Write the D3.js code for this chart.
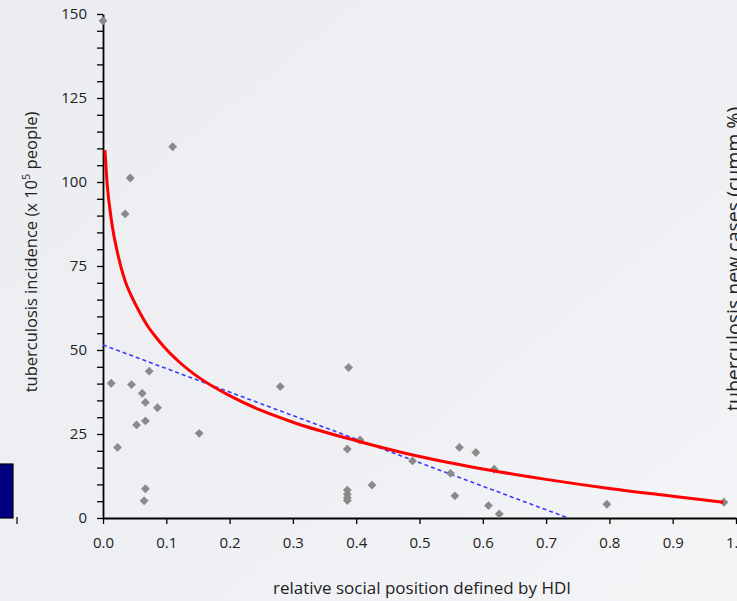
<!DOCTYPE html>
<html>
<head>
<meta charset="utf-8">
<script src="https://cdn.jsdelivr.net/npm/d3@7"></script>
<style>
  body { margin: 0; background: #eef0f3; }
  svg { display: block; font-family: "Open Sans", Lato, sans-serif; }
</style>
</head>
<body>
<script>
// scatter points: HDI position vs incidence
const hdi = [0.0, 0.11, 0.043, 0.035, 0.073, 0.013, 0.045, 0.062, 0.067, 0.086, 0.053, 0.067,
             0.152, 0.023, 0.067, 0.065, 0.28, 0.388, 0.406, 0.386, 0.386, 0.386, 0.386, 0.386,
             0.425, 0.489, 0.563, 0.589, 0.549, 0.556, 0.618, 0.609, 0.626, 0.796, 0.981]
const incidence = [148, 110.5, 101.2, 90.5, 43.7, 40.1, 39.7, 37.1, 34.4, 32.8, 27.7, 28.9,
                   25.2, 21.0, 8.7, 5.1, 39.1, 44.8, 23.2, 20.5, 8.3, 7.1, 6.0, 5.2,
                   9.8, 17.0, 21.0, 19.5, 13.3, 6.6, 14.5, 3.7, 1.2, 4.1, 4.7]

// red trend curve
const curveX = [0.003, 0.0063, 0.013, 0.024, 0.035, 0.045, 0.06, 0.071, 0.085, 0.097, 0.12, 0.15, 0.2, 0.25, 0.3, 0.4, 0.5, 0.6, 0.7, 0.8, 0.9, 0.98]
const curveY = [109.5, 100, 89, 78, 70.5, 66, 60.5, 57, 53.5, 50.8, 46.5, 42, 36.4, 32, 28.5, 23, 18.3, 14.6, 11.5, 8.8, 6.5, 4.7]

// blue dashed linear fit
const lineX = [0, 0.735]
const lineY = [51.5, 0]

const xTicks = d3.range(0, 11).map(d => d / 10)
const yTicks = d3.range(0, 151, 5)

const m = { width: 737, height: 601 }

const svg = d3.select('body').append('svg')
    .attr('width', m.width)
    .attr('height', m.height)

const defs = svg.append('defs')
const grad = defs.append('linearGradient').attr('id', 'bg')
    .attr('x1', 0).attr('y1', 0).attr('x2', 1).attr('y2', 1)
grad.append('stop').attr('offset', '0%').attr('stop-color', '#ebedf1')
grad.append('stop').attr('offset', '60%').attr('stop-color', '#eef0f3')
grad.append('stop').attr('offset', '100%').attr('stop-color', '#f4f5f7')

svg.append('rect')
    .attr('width', m.width)
    .attr('height', m.height)
    .attr('fill', 'url(#bg)')

const x = d3.scaleLinear().domain([0, 1]).range([103, 736])
const y = d3.scaleLinear().domain([0, 150]).range([518, 14])

// blue box on the left edge (remains of another chart)
svg.append('rect')
    .attr('x', -2).attr('y', 464)
    .attr('width', 15).attr('height', 54)
    .attr('fill', '#000080')
    .attr('stroke', '#000')
    .attr('stroke-width', 1.2)
svg.append('line')
    .attr('x1', 17).attr('x2', 17)
    .attr('y1', 517).attr('y2', 524)
    .attr('stroke', '#000')
    .attr('stroke-width', 1.2)

const yAxis = svg.append('g')
    .attr('transform', 'translate(' + x(0) + ',0)')
    .call(d3.axisLeft(y)
        .tickValues(yTicks)
        .tickSize(6)
        .tickSizeOuter(0)
        .tickFormat(d => d % 25 === 0 ? d : ''))
yAxis.select('.domain').attr('stroke-width', 1.8)
yAxis.selectAll('.tick line').attr('stroke-width', 1.3)
yAxis.selectAll('.tick text')
    .attr('x', -16)
    .attr('font-size', '15px')
    .attr('font-family', '"Open Sans", sans-serif')
    .attr('fill', '#222')

const xAxis = svg.append('g')
    .attr('transform', 'translate(0,' + y(0) + ')')
    .call(d3.axisBottom(x)
        .tickValues(xTicks)
        .tickSize(6)
        .tickSizeOuter(0)
        .tickFormat(d3.format('.1f')))
xAxis.select('.domain').attr('stroke-width', 1.8)
xAxis.selectAll('.tick line').attr('stroke-width', 1.3)
xAxis.selectAll('.tick text')
    .attr('y', 19)
    .attr('font-size', '15px')
    .attr('font-family', '"Open Sans", sans-serif')
    .attr('fill', '#222')

// blue dashed regression line
const lineData = lineX.map((d, i) => [d, lineY[i]])
svg.append('path')
    .datum(lineData)
    .attr('fill', 'none')
    .attr('stroke', '#3a3aff')
    .attr('stroke-width', 1.6)
    .attr('stroke-dasharray', '4,3')
    .attr('d', d3.line().x(d => x(d[0])).y(d => y(d[1])))

// points
const pts = hdi.map((d, i) => [d, incidence[i]])
svg.selectAll('.pt')
    .data(pts)
    .enter()
    .append('path')
        .attr('class', 'pt')
        .attr('transform', d => 'translate(' + x(d[0]) + ',' + y(d[1]) + ')')
        .attr('d', d3.symbol().type(d3.symbolDiamond2).size(50))
        .attr('fill', '#8a8a8a')

// red fitted curve
const curveData = curveX.map((d, i) => [d, curveY[i]])
svg.append('path')
    .datum(curveData)
    .attr('fill', 'none')
    .attr('stroke', '#ff0000')
    .attr('stroke-width', 3)
    .attr('d', d3.line().curve(d3.curveMonotoneX).x(d => x(d[0])).y(d => y(d[1])))

// axis titles
svg.append('text')
    .attr('x', 422)
    .attr('y', 594)
    .attr('text-anchor', 'middle')
    .attr('font-size', '17px')
    .attr('fill', '#222')
    .text('relative social position defined by HDI')

const yt = svg.append('text')
    .attr('transform', 'translate(37,252) rotate(-90)')
    .attr('text-anchor', 'middle')
    .attr('font-size', '16.5px')
    .attr('fill', '#222')
yt.append('tspan').text('tuberculosis incidence (x 10')
yt.append('tspan').attr('font-size', '11px').attr('dy', -7).text('5')
yt.append('tspan').attr('dy', 7).text(' people)')

svg.append('text')
    .attr('transform', 'translate(741,411) rotate(-90)')
    .attr('text-anchor', 'start')
    .attr('font-size', '19.5px')
    .attr('fill', '#222')
    .text('tuberculosis new cases (cumm %)')
</script>
</body>
</html>
